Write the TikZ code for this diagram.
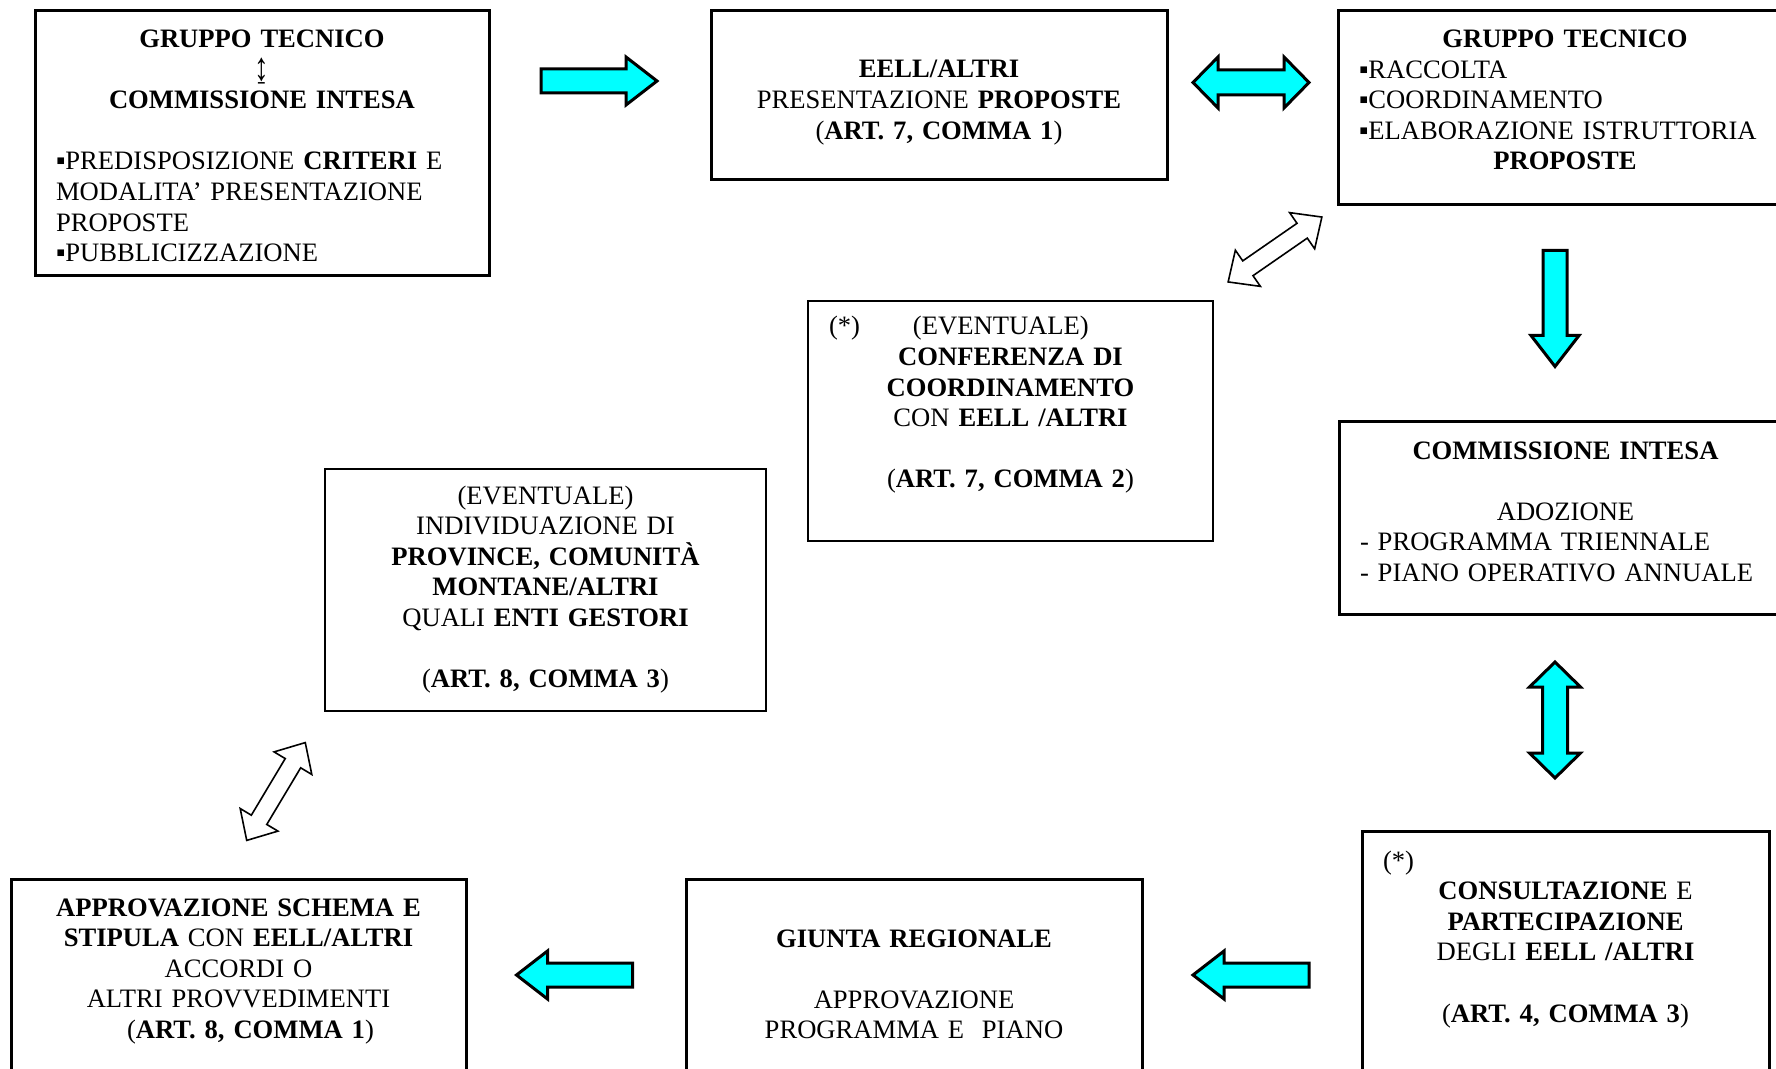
\documentclass[tikz,border=0pt]{standalone}
\usepackage{fontspec}
\setmainfont{Liberation Serif}
\usepackage{graphicx}
\usepackage{tikz}

\definecolor{flowcyan}{RGB}{0,255,255}
\newcommand{\lft}[1]{\makebox[\linewidth][l]{#1}}

\begin{document}
\begin{tikzpicture}[x=0.5pt, y=-0.5pt,
    font=\fontsize{13.3}{15.3}\selectfont,
    box/.style={draw, line width=1.5pt, inner xsep=10.5pt, inner ysep=0pt,
        outer sep=0pt, anchor=north west, align=center},
    thinbox/.style={box, line width=0.6pt},
    flow/.style={draw, line width=1.5pt, fill=flowcyan, line join=miter},
    back/.style={draw, line width=0.8pt, fill=white, line join=miter},
]
    % Frame
    \useasboundingbox (0,0) rectangle (1776,1069);
    \clip (0,0) rectangle (1776,1069);

    % Top row
    \node[box, text width=206pt, text height=18.25pt, text depth=114.25pt] (tecnico) at (35,11)
        {\textbf{GRUPPO TECNICO}\\ \raisebox{-1pt}{\scalebox{1.1}[1.5]{↨}}\\ \textbf{COMMISSIONE INTESA}\\[15.3pt]
         \lft{▪PREDISPOSIZIONE \textbf{CRITERI} E}\\
         \lft{MODALITA’ PRESENTAZIONE}\\
         \lft{PROPOSTE}\\
         \lft{▪PUBBLICIZZAZIONE}};
    \node[box, text width=207pt, text height=33.5pt, text depth=51pt] (proposte) at (711,11)
        {\textbf{EELL/ALTRI}\\ PRESENTAZIONE \textbf{PROPOSTE}\\ (\textbf{ART. 7, COMMA 1})};
    \node[box, text width=206pt, text height=18.25pt, text depth=78.75pt] (raccolta) at (1338,11)
        {\textbf{GRUPPO TECNICO}\\
         \lft{▪RACCOLTA}\\
         \lft{▪COORDINAMENTO}\\
         \lft{▪ELABORAZIONE ISTRUTTORIA}\\
         \textbf{PROPOSTE}};

    % Middle
    \node[thinbox, text width=181.5pt, text height=17pt, text depth=103pt] (conferenza) at (808,301)
        {\lft{\rlap{(*)}\hspace{42pt}(EVENTUALE)}\\
         \textbf{CONFERENZA DI}\\ \textbf{COORDINAMENTO}\\ CON \textbf{EELL /ALTRI}\\[15.3pt]
         (\textbf{ART. 7, COMMA 2})};
    \node[box, text width=205.5pt, text height=19pt, text depth=77.5pt] (adozione) at (1339,421)
        {\textbf{COMMISSIONE INTESA}\\[15.3pt]
         ADOZIONE\\
         \lft{- PROGRAMMA TRIENNALE}\\
         \lft{- PIANO OPERATIVO ANNUALE}};
    \node[thinbox, text width=199.5pt, text height=17.5pt, text depth=103.5pt] (gestori) at (325,469)
        {(EVENTUALE)\\ INDIVIDUAZIONE DI\\ \textbf{PROVINCE, COMUNITÀ}\\ \textbf{MONTANE/ALTRI}\\
         QUALI \textbf{ENTI GESTORI}\\[15.3pt]
         (\textbf{ART. 8, COMMA 3})};

    % Bottom row
    \node[box, text width=182.5pt, text height=19pt, text depth=115.5pt] (consultazione) at (1362,831)
        {\lft{(*)}\\
         \textbf{CONSULTAZIONE} E\\ \textbf{PARTECIPAZIONE}\\ DEGLI \textbf{EELL /ALTRI}\\[15.3pt]
         (\textbf{ART. 4, COMMA 3})};
    \node[box, text width=207pt, text height=34pt, text depth=76.5pt] (giunta) at (686,879)
        {\textbf{GIUNTA REGIONALE}\\[15.3pt]
         APPROVAZIONE\\ PROGRAMMA E~ PIANO};
    \node[box, text width=206.5pt, text height=18.5pt, text depth=92pt] (stipula) at (11,879)
        {\textbf{APPROVAZIONE SCHEMA E}\\ \textbf{STIPULA} CON \textbf{EELL/ALTRI}\\
         ACCORDI O\\ ALTRI PROVVEDIMENTI\\ \hspace*{12pt}(\textbf{ART. 8, COMMA 1})};

    % Block arrows
    \foreach \cx/\cy/\turn in {599/81/0, 1555/308.5/-90, 1251/975/180, 574.5/975/180}
        \draw[flow, shift={(\cx,\cy)}, rotate=\turn]
            (-58,-12) -- (27,-12) -- (27,-24) -- (58,0) -- (27,24) -- (27,12) -- (-58,12) -- cycle;
    \foreach \cx/\cy/\turn in {1251/82.5/0, 1555/720/90}
        \draw[flow, shift={(\cx,\cy)}, rotate=\turn]
            (-58,0) -- (-33,-25.5) -- (-33,-12.5) -- (33,-12.5) -- (33,-25.5) -- (58,0)
            -- (33,25.5) -- (33,12.5) -- (-33,12.5) -- (-33,25.5) -- cycle;

    % Eventual links
    \foreach \cx/\cy/\turn in {1275/249.5/34.7, 276/791.5/59.1}
        \draw[back, shift={(\cx,\cy)}, rotate=\turn]
            (-57,0) -- (-33,-22) -- (-33,-9) -- (33,-9) -- (33,-22) -- (57,0)
            -- (33,22) -- (33,9) -- (-33,9) -- (-33,22) -- cycle;
\end{tikzpicture}
\end{document}
